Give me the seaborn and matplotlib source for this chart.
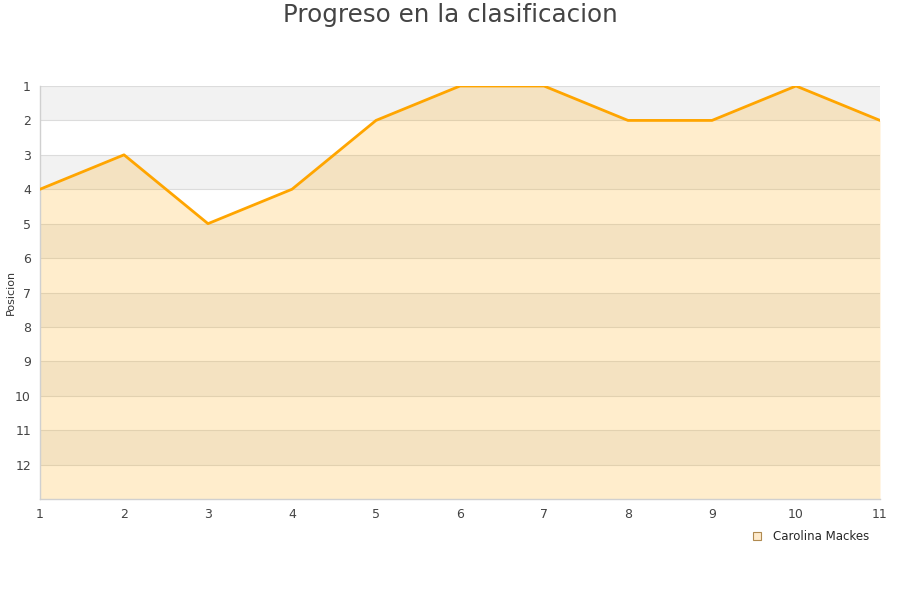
import matplotlib
matplotlib.use("Agg")
import matplotlib.pyplot as plt
import seaborn as sns
import pandas as pd
from matplotlib.lines import Line2D

jornadas = [1, 2, 3, 4, 5, 6, 7, 8, 9, 10, 11]
posicion = [4, 3, 5, 4, 2, 1, 1, 2, 2, 1, 2]
y_ticks = list(range(1, 13))
jugador = "Carolina Mackes"
titulo = "Progreso en la clasificacion"

sns.set_theme(style="white")
plt.rcParams['font.family'] = ['DejaVu Sans']

fig = plt.figure(figsize=(9, 6), dpi=100)
ax = fig.add_axes([40/900, 1-499/600, 840/900, 413/600])

ymax = 13
# alternating background bands
for k in range(1, ymax):
    if k % 2 == 1:
        ax.axhspan(k, k+1, color="#f2f2f2", zorder=0, lw=0)
for k in range(1, ymax):
    ax.axhline(k, color="#dcdcdc", lw=0.8, zorder=1)

df = pd.DataFrame({"Jornada": jornadas, "Posicion": posicion})
ax.fill_between(df["Jornada"], df["Posicion"], ymax, color="orange", alpha=0.2, lw=0, zorder=2)
sns.lineplot(data=df, x="Jornada", y="Posicion", ax=ax, color="#ffa500", lw=2, zorder=3, legend=False)

ax.set_xlim(1, 11)
ax.set_ylim(ymax, 1)
ax.set_yticks(y_ticks)
ax.set_xticks(jornadas)
ax.tick_params(axis="both", labelsize=9, colors="#444444", length=0)
ax.tick_params(axis="x", pad=6.5)
ax.tick_params(axis="y", pad=6.5)
ax.set_xlabel("")
ax.set_ylabel("")
fig.text(11/900, 1-292/600, "Posicion", rotation=90, fontsize=8, color="#333333",
         ha="center", va="center")
for s in ["top", "right"]:
    ax.spines[s].set_visible(False)
for s in ["left", "bottom"]:
    ax.spines[s].set_color("#d0d0d0")
    ax.spines[s].set_linewidth(1)

fig.suptitle(titulo, fontsize=17.7, color="#444444", y=0.995, va="top")

handle = Line2D([], [], marker="s", linestyle="none", markersize=6,
                markerfacecolor="#ffebcc", markeredgecolor="#b08a50", markeredgewidth=0.8)
fig.legend([handle], [jugador], loc="center left", bbox_to_anchor=(745/900, 1-537/600),
           frameon=False, fontsize=8.5, handletextpad=0.4, borderaxespad=0, borderpad=0)

fig.savefig("out.png", dpi=100)
